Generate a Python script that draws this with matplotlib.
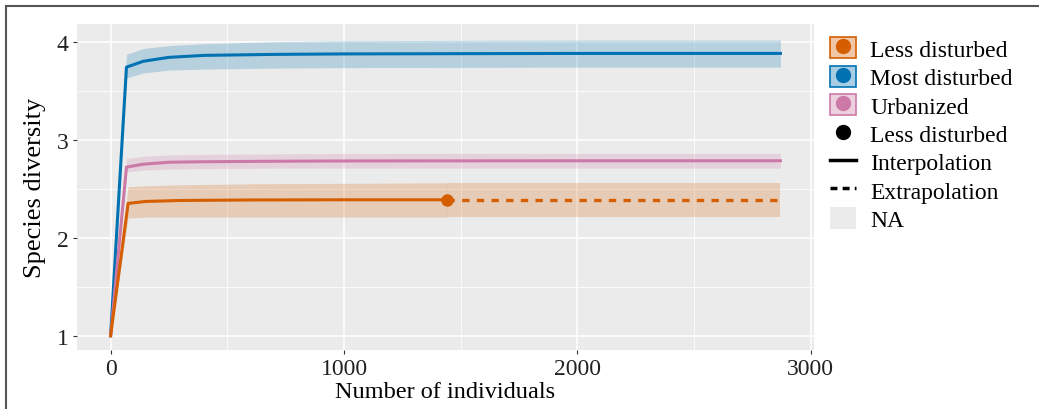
import matplotlib
matplotlib.use("Agg")
import matplotlib.pyplot as plt
from matplotlib.lines import Line2D
from matplotlib.patches import Patch

plt.rcParams["font.family"] = ["Liberation Serif", "DejaVu Serif"]

# Less disturbed (interpolated up to the observed sample, then extrapolated)
less_x = [0, 75, 150, 300, 600, 1000, 1440]
less_y = [1.0, 2.35, 2.37, 2.38, 2.385, 2.387, 2.387]
less_lo = [1.0, 2.20, 2.21, 2.21, 2.21, 2.21, 2.21]
less_hi = [1.0, 2.52, 2.53, 2.54, 2.55, 2.555, 2.56]
less_ext_x = [1440, 2000, 2870]
less_ext_y = [2.387, 2.387, 2.387]
less_ext_lo = [2.21, 2.21, 2.21]
less_ext_hi = [2.56, 2.56, 2.56]

# Most disturbed
most_x = [0, 68, 140, 250, 400, 700, 1000, 2000, 2870]
most_y = [1.0, 3.74, 3.80, 3.84, 3.86, 3.87, 3.875, 3.88, 3.88]
most_lo = [1.0, 3.63, 3.68, 3.71, 3.72, 3.73, 3.735, 3.74, 3.74]
most_hi = [1.0, 3.87, 3.93, 3.96, 3.98, 4.0, 4.01, 4.016, 4.016]

# Urbanized
urb_x = [0, 68, 140, 250, 400, 700, 1000, 2000, 2870]
urb_y = [1.0, 2.72, 2.75, 2.77, 2.775, 2.78, 2.783, 2.785, 2.785]
urb_lo = [1.0, 2.67, 2.69, 2.70, 2.705, 2.71, 2.71, 2.71, 2.71]
urb_hi = [1.0, 2.81, 2.83, 2.845, 2.85, 2.855, 2.86, 2.86, 2.86]

C_LESS = "#D55E00"
C_MOST = "#0072B2"
C_URB = "#CC79A7"

fig = plt.figure(figsize=(10.39, 4.10), dpi=100)
ax = fig.add_axes([0.0741, 0.144, 0.7094, 0.795])
ax.set_facecolor("#EBEBEB")

ax.fill_between(most_x, most_lo, most_hi, color=C_MOST, alpha=0.22, lw=0)
ax.fill_between(urb_x, urb_lo, urb_hi, color=C_URB, alpha=0.22, lw=0)
ax.fill_between(less_x, less_lo, less_hi, color=C_LESS, alpha=0.22, lw=0)
ax.fill_between(less_ext_x, less_ext_lo, less_ext_hi, color=C_LESS, alpha=0.22, lw=0)

ax.plot(most_x, most_y, color=C_MOST, lw=2.2)
ax.plot(urb_x, urb_y, color=C_URB, lw=2.2)
ax.plot(less_x, less_y, color=C_LESS, lw=2.2)
ax.plot(less_ext_x, less_ext_y, color=C_LESS, lw=2.4, ls=(0, (2.2, 2.2)))
ax.plot([less_x[-1]], [less_y[-1]], "o", color=C_LESS, ms=8)

ax.set_xlim(-144, 3014)
ax.set_ylim(0.855, 4.18)
ax.set_xticks([0, 1000, 2000, 3000])
ax.set_xticks([500, 1500, 2500], minor=True)
ax.set_yticks([1, 2, 3, 4])
ax.set_yticks([1.5, 2.5, 3.5], minor=True)
ax.grid(True, which="major", color="white", lw=1.1)
ax.grid(True, which="minor", color="white", lw=0.55)
ax.set_axisbelow(True)
for s in ax.spines.values():
    s.set_visible(False)
ax.tick_params(which="major", length=3, color="#333333", labelsize=17, labelcolor="#222222", pad=3)
ax.tick_params(which="minor", length=0)
ax.set_xlabel("Number of individuals", fontsize=17.5, labelpad=1)
ax.set_ylabel("Species diversity", fontsize=19, labelpad=8)


def band_key(c):
    return (Patch(facecolor=c, alpha=0.35, edgecolor="none"),
            Patch(facecolor="none", edgecolor=c, lw=1.2),
            Line2D([], [], marker="o", color=c, ls="none", ms=10))


handles = [
    band_key(C_LESS),
    band_key(C_MOST),
    band_key(C_URB),
    Line2D([], [], marker="o", color="black", ls="none", ms=10),
    Line2D([], [], color="black", lw=2.5),
    Line2D([], [], color="black", lw=2.5, ls=(0, (2, 1.5))),
    Patch(facecolor="#EBEBEB", edgecolor="none"),
]
labels = ["Less disturbed", "Most disturbed", "Urbanized", "Less disturbed",
          "Interpolation", "Extrapolation", "NA"]
fig.legend(handles, labels, loc="upper left", bbox_to_anchor=(0.79, 0.93),
           frameon=False, fontsize=17, handlelength=1.1, handleheight=1.0,
           handletextpad=0.6, labelspacing=0.2, borderaxespad=0)

# frame around the figure (top and left edges visible)
fig.add_artist(Line2D([0.006, 0.006], [0.0, 0.983], color="#555555", lw=1.5))
fig.add_artist(Line2D([0.006, 1.0], [0.983, 0.983], color="#555555", lw=1.5))

fig.savefig("out.png", dpi=100)
